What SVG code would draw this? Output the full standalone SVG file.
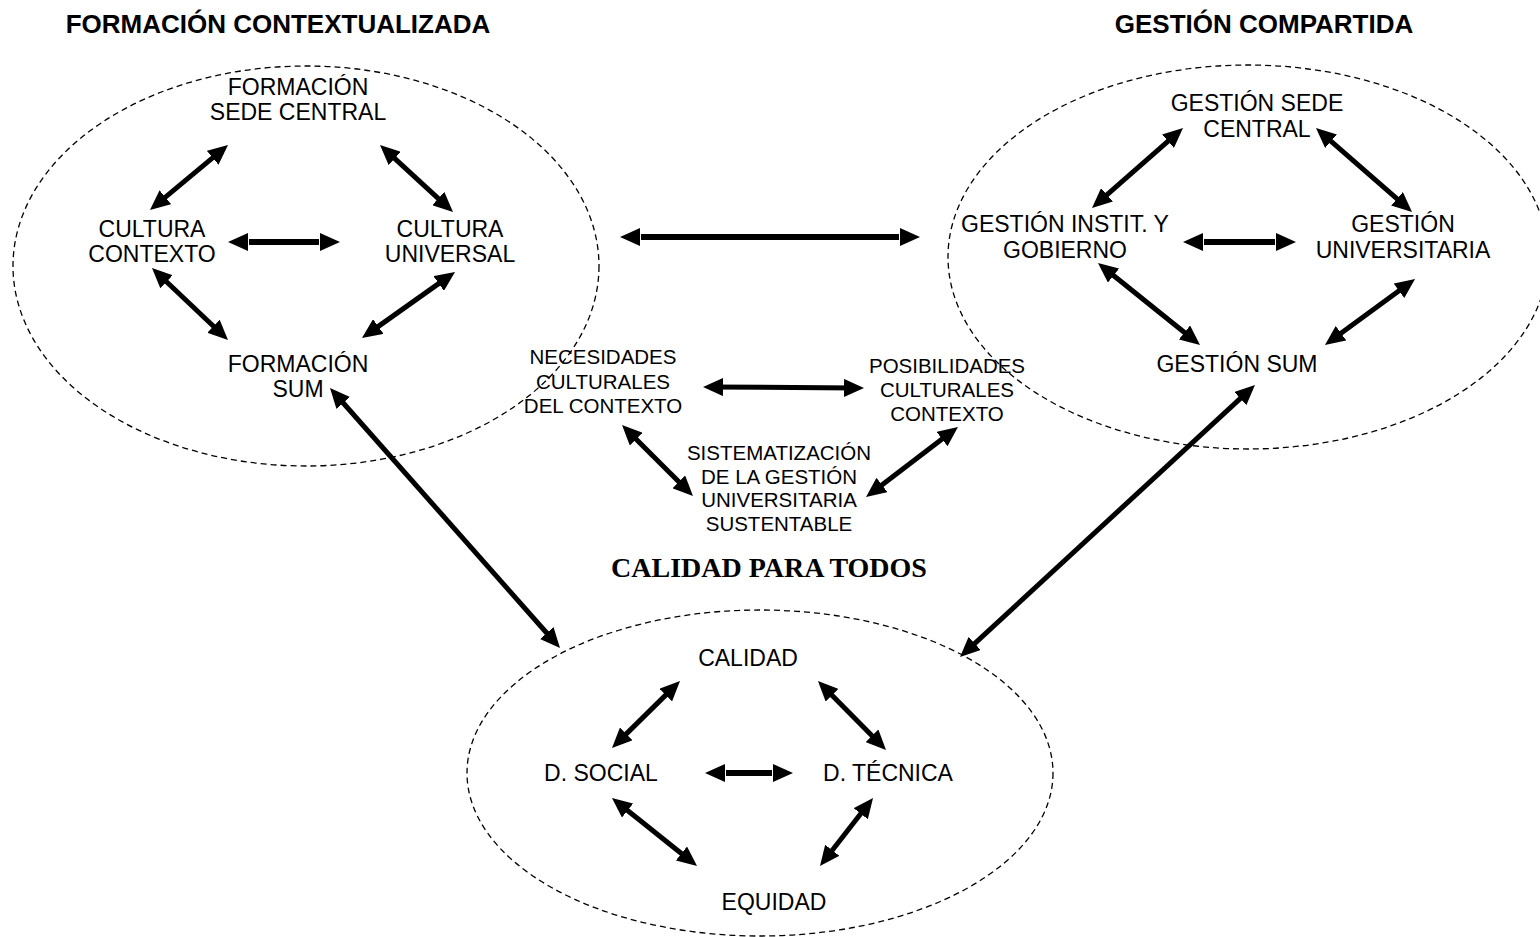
<svg xmlns="http://www.w3.org/2000/svg" width="1540" height="937" viewBox="0 0 1540 937">
<defs>
<marker id="ah" viewBox="0 0 20 18" markerWidth="20" markerHeight="18" refX="12" refY="9" markerUnits="userSpaceOnUse" orient="auto-start-reverse">
<path d="M0,0 L20,9 L0,18 z" fill="#000"/>
</marker>
<style>
.t{font-family:"Liberation Sans",Arial,sans-serif;font-size:23px;fill:#000;text-anchor:middle}
.s{font-family:"Liberation Sans",Arial,sans-serif;font-size:20.5px;fill:#000;text-anchor:middle}
.h{font-family:"Liberation Sans",Arial,sans-serif;font-size:26px;font-weight:bold;fill:#000;text-anchor:middle}
.hs{font-family:"Liberation Serif","Times New Roman",serif;font-size:28px;font-weight:bold;fill:#000;text-anchor:middle}
.ell{fill:none;stroke:#000;stroke-width:1.3;stroke-dasharray:6 4}
.a{stroke:#000;stroke-width:5;fill:none;marker-start:url(#ah);marker-end:url(#ah)}
.b{stroke:#000;stroke-width:6;fill:none;marker-start:url(#ah);marker-end:url(#ah)}
.w{stroke:#fff;stroke-width:1}
</style>
</defs>
<rect width="1540" height="937" fill="#fff"/>
<g id="regions">
<ellipse class="ell" cx="306" cy="266" rx="293" ry="200"/>
<ellipse class="ell" cx="1248" cy="257" rx="300" ry="192"/>
<ellipse class="ell" cx="760" cy="773" rx="293" ry="163"/>
</g>
<g id="titles">
<text class="h" x="278" y="33">FORMACIÓN CONTEXTUALIZADA</text>
<text class="h" x="1264" y="33">GESTIÓN COMPARTIDA</text>
<text class="hs" x="769" y="577">CALIDAD PARA TODOS</text>
</g>
<g id="n-formacion-sede"><text class="t" x="298" y="95">FORMACIÓN</text><text class="t" x="298" y="120">SEDE CENTRAL</text></g>
<g id="n-cultura-contexto"><text class="t" x="152" y="237">CULTURA</text><text class="t" x="152" y="262">CONTEXTO</text></g>
<g id="n-cultura-universal"><text class="t" x="450" y="237">CULTURA</text><text class="t" x="450" y="262">UNIVERSAL</text></g>
<g id="n-formacion-sum"><text class="t" x="298" y="372">FORMACIÓN</text><text class="t" x="298" y="397">SUM</text></g>
<g id="n-gestion-sede"><text class="t" x="1257" y="111">GESTIÓN SEDE</text><text class="t" x="1257" y="137">CENTRAL</text></g>
<g id="n-gestion-instit"><text class="t" x="1065" y="232">GESTIÓN INSTIT. Y</text><text class="t" x="1065" y="258">GOBIERNO</text></g>
<g id="n-gestion-univ"><text class="t" x="1403" y="232">GESTIÓN</text><text class="t" x="1403" y="258">UNIVERSITARIA</text></g>
<g id="n-gestion-sum"><text class="t" x="1237" y="372">GESTIÓN SUM</text></g>
<g id="n-necesidades"><text class="s" x="603" y="364">NECESIDADES</text><text class="s" x="603" y="389">CULTURALES</text><text class="s" x="603" y="413">DEL CONTEXTO</text></g>
<g id="n-posibilidades"><text class="s" x="947" y="373">POSIBILIDADES</text><text class="s" x="947" y="397">CULTURALES</text><text class="s" x="947" y="421">CONTEXTO</text></g>
<g id="n-sistematizacion"><text class="s" x="779" y="460">SISTEMATIZACIÓN</text><text class="s" x="779" y="484">DE LA GESTIÓN</text><text class="s" x="779" y="507">UNIVERSITARIA</text><text class="s" x="779" y="531">SUSTENTABLE</text></g>
<g id="n-calidad"><text class="t" x="748" y="666">CALIDAD</text></g>
<g id="n-dsocial"><text class="t" x="601" y="781">D. SOCIAL</text></g>
<g id="n-dtecnica"><text class="t" x="888" y="781">D. TÉCNICA</text></g>
<g id="n-equidad"><text class="t" x="774" y="910">EQUIDAD</text></g>
<g id="connectors">
<line class="a" x1="221.9" y1="150.1" x2="156.1" y2="204.9"/>
<line class="a" x1="385.9" y1="150.4" x2="447.1" y2="206.6"/>
<line class="b" x1="236" y1="242" x2="332" y2="242"/>
<line class="a" x1="157.8" y1="273.5" x2="222.2" y2="334.5"/>
<line class="a" x1="448.5" y1="276.6" x2="368.5" y2="333.4"/>
<line class="a" x1="1177" y1="133.3" x2="1098" y2="202.7"/>
<line class="a" x1="1322" y1="133.3" x2="1406" y2="206.7"/>
<line class="b" x1="1191" y1="242" x2="1288" y2="242"/>
<line class="a" x1="1104.2" y1="268" x2="1193.8" y2="340"/>
<line class="a" x1="1408.6" y1="283.7" x2="1331.4" y2="340.3"/>
<line class="b" x1="628" y1="237" x2="912" y2="237"/>
<line class="a" x1="711" y1="387" x2="856" y2="388"/>
<line class="a" x1="627.7" y1="430.7" x2="687.3" y2="490.3"/>
<line class="a" x1="951.6" y1="431.8" x2="872.4" y2="492.2"/>
<line class="a" x1="335.3" y1="394" x2="554.7" y2="642"/>
<line class="a" x1="1249.1" y1="390.4" x2="965.9" y2="651.6"/>
<line class="a" x1="674.3" y1="686.6" x2="617.7" y2="742.4"/>
<line class="a" x1="823.6" y1="686.7" x2="880.4" y2="744.3"/>
<line class="b" x1="713" y1="773" x2="785" y2="773"/>
<line class="a" x1="618.2" y1="803" x2="690.8" y2="861"/>
<line class="a" x1="868.1" y1="804.3" x2="824.9" y2="859.7"/>
<g id="block-ticks">
<line class="w" x1="248.5" y1="239" x2="248.5" y2="245"/><line class="w" x1="319.5" y1="239" x2="319.5" y2="245"/>
<line class="w" x1="1203.5" y1="239" x2="1203.5" y2="245"/><line class="w" x1="1275.5" y1="239" x2="1275.5" y2="245"/>
<line class="w" x1="640.5" y1="234" x2="640.5" y2="240"/><line class="w" x1="899.5" y1="234" x2="899.5" y2="240"/>
<line class="w" x1="725.5" y1="770" x2="725.5" y2="776"/><line class="w" x1="772.5" y1="770" x2="772.5" y2="776"/>
</g>
</g>
</svg>
